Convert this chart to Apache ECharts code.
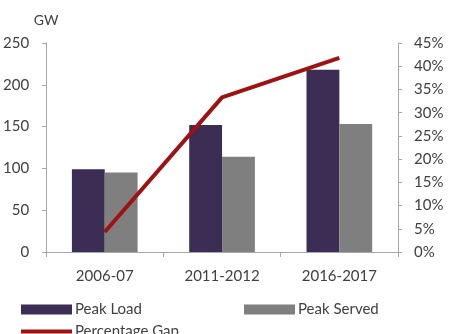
<!DOCTYPE html>
<html>
<head>
<meta charset="utf-8">
<script src="https://cdn.jsdelivr.net/npm/echarts@6/dist/echarts.min.js"></script>
<style>
  html, body { margin: 0; padding: 0; background: #fff; }
  #chart { width: 456px; height: 334px; }
</style>
</head>
<body>
<div id="chart"></div>
<script>
const categories = ['2006-07', '2011-2012', '2016-2017']
const peakLoad = [99, 152, 218]
const peakServed = [95, 114, 153]
const percentageGap = [4.3, 33.3, 41.8]

const textColor = '#404040'
const axisColor = '#a6a6a6'
const font = 'Lato'

const chart = echarts.init(document.getElementById('chart'), null, { renderer: 'canvas' })

const legendBase = {
  orient: 'horizontal',
  itemWidth: 51,
  itemHeight: 10,
  icon: 'rect',
  textStyle: { color: textColor, fontSize: 15, fontFamily: font, padding: [0, 0, 0, -2] },
  selectedMode: false
}

chart.setOption({
  animation: false,
  backgroundColor: '#fff',
  grid: { left: 46, right: 58, top: 43, bottom: 82 },
  legend: [
    { ...legendBase, left: 16, top: 297, data: ['Peak Load'] },
    { ...legendBase, left: 239, top: 297, data: ['Peak Served'] },
    { ...legendBase, left: 16, top: 319, itemHeight: 4, data: ['Percentage Gap'] }
  ],
  xAxis: {
    type: 'category',
    data: categories,
    axisLine: { lineStyle: { color: axisColor, width: 1 } },
    axisTick: { show: true, length: 5, lineStyle: { color: axisColor } },
    axisLabel: { color: textColor, fontSize: 15, fontFamily: font, margin: 17 }
  },
  yAxis: [
    {
      type: 'value',
      min: 0,
      max: 250,
      interval: 50,
      name: 'GW',
      nameLocation: 'end',
      nameGap: 16,
      nameTextStyle: { color: textColor, fontSize: 14, fontFamily: font },
      axisLine: { show: true, lineStyle: { color: axisColor } },
      axisTick: { show: true, length: 4, lineStyle: { color: axisColor } },
      splitLine: { show: false },
      axisLabel: { color: textColor, fontSize: 15, fontFamily: font, margin: 17 }
    },
    {
      type: 'value',
      min: 0,
      max: 45,
      interval: 5,
      position: 'right',
      axisLine: { show: true, lineStyle: { color: axisColor } },
      axisTick: { show: true, length: 4, lineStyle: { color: axisColor } },
      splitLine: { show: false },
      axisLabel: { color: textColor, fontSize: 15, fontFamily: font, margin: 16, formatter: '{value}%' }
    }
  ],
  series: [
    {
      name: 'Peak Load',
      type: 'bar',
      data: peakLoad,
      barGap: '0%',
      barCategoryGap: '44%',
      itemStyle: { color: '#3b2d54' }
    },
    {
      name: 'Peak Served',
      type: 'bar',
      data: peakServed,
      itemStyle: { color: '#7f7f7f' }
    },
    {
      name: 'Percentage Gap',
      type: 'line',
      yAxisIndex: 1,
      data: percentageGap,
      symbol: 'none',
      lineStyle: { color: '#9e1212', width: 4 },
      itemStyle: { color: '#9e1212' }
    }
  ]
})
</script>
</body>
</html>
